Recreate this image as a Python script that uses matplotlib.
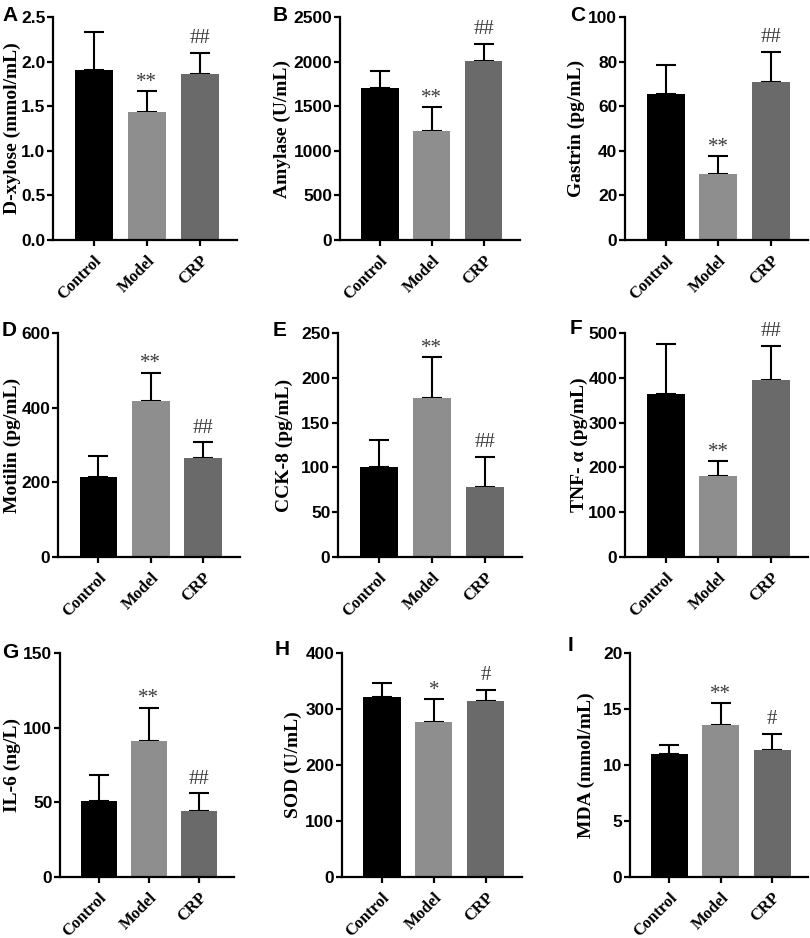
import matplotlib
matplotlib.use('Agg')
import matplotlib.pyplot as plt
import matplotlib.transforms as mtransforms
import numpy as np

# Groups and per-panel values (mean and upper error)
groups = ['Control', 'Model', 'CRP']
letters = ['A', 'B', 'C', 'D', 'E', 'F', 'G', 'H', 'I']
ylabels = ['D-xylose (mmol/mL)', 'Amylase (U/mL)', 'Gastrin (pg/mL)',
           'Motilin (pg/mL)', 'CCK-8 (pg/mL)', 'TNF- α (pg/mL)',
           'IL-6 (ng/L)', 'SOD (U/mL)', 'MDA (mmol/mL)']
ymax = [2.5, 2500, 100, 600, 250, 500, 150, 400, 20]
ystep = [0.5, 500, 20, 200, 50, 100, 50, 100, 5]

means = [
    [1.91, 1.44, 1.86],
    [1700, 1225, 2010],
    [65.5, 29.8, 70.7],
    [213, 418, 266],
    [101, 178, 78.5],
    [364, 180, 394],
    [51, 91, 44],
    [321, 277, 314],
    [11.0, 13.6, 11.35],
]
errs = [
    [0.42, 0.23, 0.24],
    [195, 265, 190],
    [12.8, 7.9, 13.7],
    [57, 76, 41],
    [30, 45, 33.5],
    [111, 34, 78],
    [17, 22.5, 12],
    [25, 41, 20],
    [0.75, 1.9, 1.45],
]
marks = [
    ['', '**', '##'],
    ['', '**', '##'],
    ['', '**', '##'],
    ['', '**', '##'],
    ['', '**', '##'],
    ['', '**', '##'],
    ['', '**', '##'],
    ['', '*', '#'],
    ['', '**', '#'],
]

bar_colors = ['#000000', '#8e8e8e', '#6a6a6a']

# axes boxes in pixels: left spine x, right end x, top y, bottom y
W, H = 810, 938
boxes = [
    (53, 237, 17, 240), (340, 520, 17, 240), (625, 808, 17, 240),
    (58, 240, 333, 557), (338, 522, 333, 557), (625, 808, 333, 557),
    (60, 234, 653, 877), (342, 522, 653, 877), (630, 808, 653, 877),
]
# right edge (px) of each rotated y label
label_right = [21, 291, 585, 21, 293, 588, 21, 302, 595]
letter_pos = [(2, 6), (273, 6), (570, 6),
              (2, 321), (273, 321), (570, 319),
              (2, 643), (275, 640), (568, 636)]

SANS = 'Liberation Sans'
SERIF = 'Liberation Serif'

fig = plt.figure(figsize=(W / 100, H / 100), dpi=100)

for k in range(9):
    x0, x1, yt, yb = boxes[k]
    ax = fig.add_axes([x0 / W, 1 - yb / H, (x1 - x0) / W, (yb - yt) / H])
    x = np.arange(len(groups))
    ax.bar(x, means[k], width=0.72, color=bar_colors, zorder=2)
    ax.errorbar(x, means[k], yerr=[np.zeros(3), errs[k]], fmt='none',
                ecolor='black', elinewidth=1.5, capsize=7, capthick=1.5,
                zorder=1)

    ax.set_xlim(-0.77, 2.7)
    ax.set_ylim(0, ymax[k])
    ticks = np.arange(0, ymax[k] + ystep[k] / 2, ystep[k])
    ax.set_yticks(ticks)
    if ystep[k] < 1:
        ax.set_yticklabels([f'{t:.1f}' for t in ticks])
    else:
        ax.set_yticklabels([f'{int(t)}' for t in ticks])
    for lab in ax.get_yticklabels():
        lab.set_fontfamily(SANS)
        lab.set_fontweight('bold')
        lab.set_fontsize(12.5)

    ax.set_xticks(x)
    ax.set_xticklabels(groups, rotation=45, ha='right', va='top',
                       rotation_mode='anchor', fontfamily=SERIF,
                       fontweight='bold', fontsize=12)
    shift = mtransforms.ScaledTranslation(4 / 72, 0, fig.dpi_scale_trans)
    for lab in ax.get_xticklabels():
        lab.set_transform(lab.get_transform() + shift)

    ax.set_ylabel(ylabels[k], fontfamily=SERIF, fontweight='bold',
                  fontsize=14)
    ax.yaxis.set_label_coords((label_right[k] - x0) / (x1 - x0), 0.5)

    for side in ['top', 'right']:
        ax.spines[side].set_visible(False)
    for side in ['left', 'bottom']:
        ax.spines[side].set_linewidth(1.6)
    ax.tick_params(axis='both', direction='out', length=4.5, width=1.6)
    ax.tick_params(axis='y', pad=1)
    ax.tick_params(axis='x', pad=4.5)

    for i, m in enumerate(marks[k]):
        if not m:
            continue
        top = means[k][i] + errs[k][i]
        off = 7 if '#' in m else 3
        ax.annotate(m, (i, top), xytext=(0, off), textcoords='offset points',
                    ha='center', va='baseline', fontfamily=SERIF,
                    fontsize=15, color='#3c3c3c')

    lx, ly = letter_pos[k]
    fig.text(lx / W, 1 - ly / H, letters[k], fontfamily=SANS,
             fontweight='bold', fontsize=15, va='top', ha='left')

fig.savefig('out.png', dpi=100, facecolor='white')
